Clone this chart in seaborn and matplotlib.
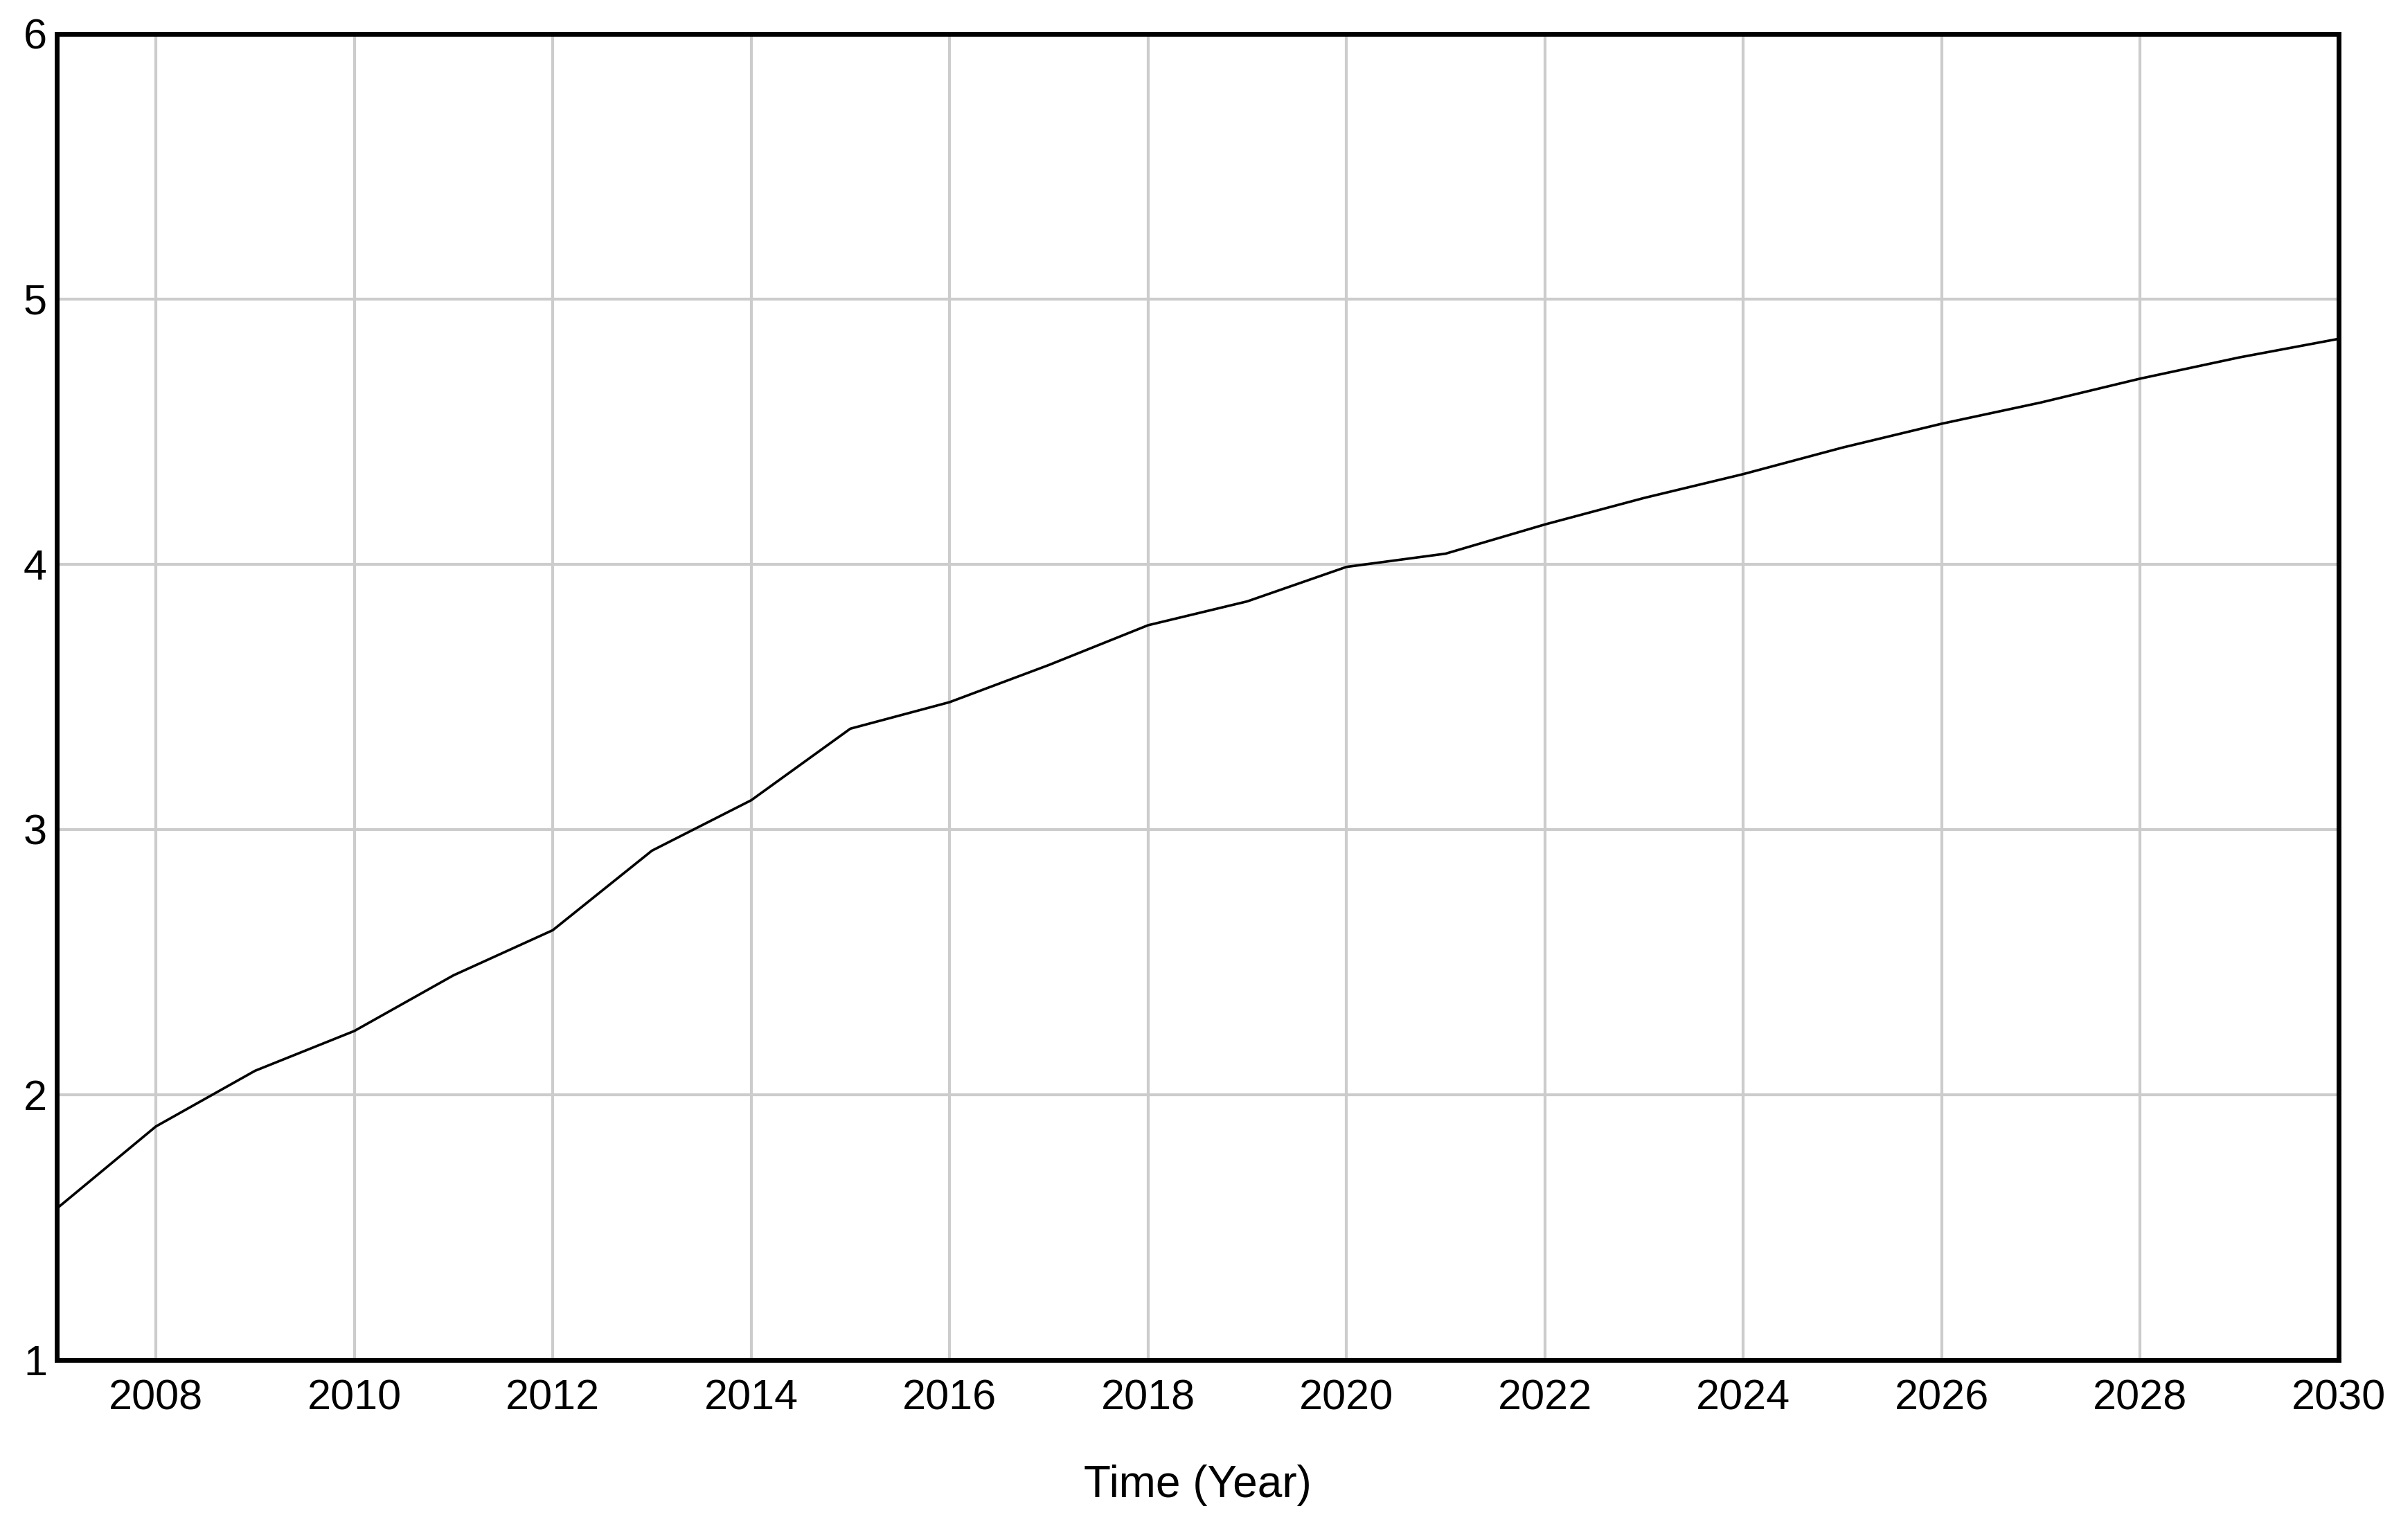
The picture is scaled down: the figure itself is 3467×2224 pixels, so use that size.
import numpy as np
import matplotlib
matplotlib.use("Agg")
import matplotlib.pyplot as plt
import seaborn as sns

years = list(range(2007, 2031))
values = [1.57, 1.88, 2.09, 2.24, 2.45, 2.62, 2.92, 3.11, 3.38, 3.48, 3.62, 3.77,
          3.86, 3.99, 4.04, 4.15, 4.25, 4.34, 4.44, 4.53, 4.61, 4.70, 4.78, 4.85]
xticks = list(range(2008, 2031, 2))
yticks = [1, 2, 3, 4, 5, 6]

sns.set_theme(style="white")
plt.rcParams['font.family'] = ['Liberation Sans', 'DejaVu Sans']

fig = plt.figure(figsize=(17.335, 11.12), dpi=200)
ax = fig.add_axes([0.0236, 0.117, 0.9504, 0.861])
sns.lineplot(x=years, y=values, color='black', linewidth=1.3, ax=ax)

ax.set_xlim(2007, 2030)
ax.set_ylim(1, 6)
ax.set_xticks(xticks)
ax.set_yticks(yticks)
ax.grid(True, color='#cccccc', linewidth=1.5)
for s in ax.spines.values():
    s.set_color('black')
    s.set_linewidth(2.5)
ax.tick_params(axis='both', labelsize=22, colors='black', length=0, pad=10)
ax.tick_params(axis='y', pad=5)
ax.set_xlabel('Time (Year)', fontsize=23, labelpad=24, color='black')

fig.savefig('out.png', dpi=200)
